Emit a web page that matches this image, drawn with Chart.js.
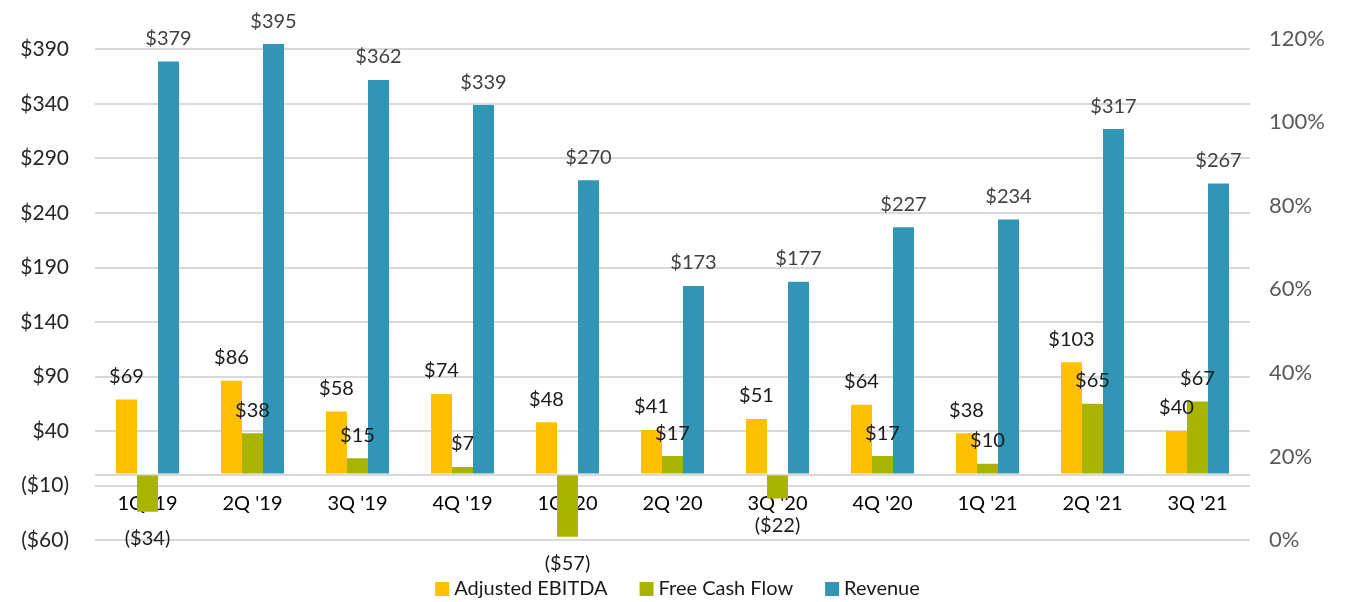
<!DOCTYPE html>
<html>
<head>
<meta charset="utf-8">
<script src="https://cdn.jsdelivr.net/npm/chart.js@4.4.1/dist/chart.umd.min.js"></script>
<style>
  html, body { margin: 0; padding: 0; background: #fff; }
  #wrap { width: 1355px; height: 602px; }
</style>
</head>
<body>
<div id="wrap"><canvas id="finChart"></canvas></div>
<script>
const quarters = ["1Q '19", "2Q '19", "3Q '19", "4Q '19", "1Q '20", "2Q '20", "3Q '20", "4Q '20", "1Q '21", "2Q '21", "3Q '21"];
const ebitda = [69, 86, 58, 74, 48, 41, 51, 64, 38, 103, 40];
const freeCashFlow = [-34, 38, 15, 7, -57, 17, -22, 17, 10, 65, 67];
const revenue = [379, 395, 362, 339, 270, 173, 177, 227, 234, 317, 267];
const leftTicks = [-60, -10, 0, 40, 90, 140, 190, 240, 290, 340, 390];

const fontFamily = 'Lato, "Open Sans", sans-serif';

function money(v) {
    return v < 0 ? '($' + Math.abs(v) + ')' : '$' + v;
}

// value labels above (or below) each bar
const barLabels = {
    id: 'barLabels',
    afterDatasetsDraw(chart) {
        const ctx = chart.ctx;
        ctx.save();
        ctx.font = '20px ' + fontFamily;
        ctx.textAlign = 'center';
        ctx.textBaseline = 'middle';
        chart.data.datasets.forEach((ds, i) => {
            const meta = chart.getDatasetMeta(i);
            ctx.fillStyle = ds.labelColor;
            meta.data.forEach((bar, j) => {
                const v = ds.data[j];
                const y = v < 0 ? bar.y + 27 : bar.y - 23;
                ctx.fillText(money(v), bar.x, y);
            });
        });
        ctx.restore();
    }
};

// legend drawn by hand so it can sit lower than the built-in one
const bottomLegend = {
    id: 'bottomLegend',
    afterDraw(chart) {
        const ctx = chart.ctx;
        const box = 14, gap = 5, spacing = 32;
        const y = chart.height - 13;
        ctx.save();
        ctx.font = '20px ' + fontFamily;
        ctx.textBaseline = 'middle';
        const items = chart.data.datasets.map(ds => ({
            text: ds.label,
            color: ds.backgroundColor,
            w: box + gap + ctx.measureText(ds.label).width
        }));
        const total = items.reduce((s, it) => s + it.w, 0) + spacing * (items.length - 1);
        let x = (chart.width - total) / 2;
        items.forEach(it => {
            ctx.fillStyle = it.color;
            ctx.fillRect(x, y - box / 2, box, box);
            ctx.fillStyle = '#1a1a1a';
            ctx.fillText(it.text, x + box + gap, y);
            x += it.w + spacing;
        });
        ctx.restore();
    }
};

const ctx = document.getElementById('finChart').getContext('2d');

new Chart(ctx, {
    type: 'bar',
    data: {
        labels: quarters,
        datasets: [
            {
                label: 'Adjusted EBITDA',
                data: ebitda,
                backgroundColor: '#FFC000',
                labelColor: '#1a1a1a'
            },
            {
                label: 'Free Cash Flow',
                data: freeCashFlow,
                backgroundColor: '#A9B400',
                labelColor: '#1a1a1a'
            },
            {
                label: 'Revenue',
                data: revenue,
                backgroundColor: '#3196B5',
                labelColor: '#404040'
            }
        ]
    },
    options: {
        responsive: true,
        maintainAspectRatio: false,
        animation: false,
        datasets: {
            bar: { categoryPercentage: 0.6, barPercentage: 1.0 }
        },
        layout: {
            padding: { top: 34, left: 0, right: 0, bottom: 62 }
        },
        plugins: {
            legend: { display: false },
            tooltip: { enabled: false }
        },
        scales: {
            x: {
                position: { y: 0 },
                grid: { display: false },
                border: { display: false },
                ticks: {
                    color: '#000',
                    padding: 9,
                    maxRotation: 0,
                    font: { family: fontFamily, size: 20 }
                }
            },
            y: {
                min: -60,
                max: 400,
                afterBuildTicks: scale => {
                    scale.ticks = leftTicks.map(v => ({ value: v }));
                },
                afterFit: scale => { scale.width = 95; },
                grid: { color: '#D9D9D9', lineWidth: 2, drawTicks: false },
                border: { display: false },
                ticks: {
                    color: '#262626',
                    padding: 26,
                    font: { family: fontFamily, size: 21 },
                    callback: v => v === 0 ? '' : money(v)
                }
            },
            y1: {
                position: 'right',
                min: 0,
                max: 120,
                afterFit: scale => { scale.width = 105; },
                grid: { drawOnChartArea: false, drawTicks: false },
                border: { display: false },
                ticks: {
                    stepSize: 20,
                    color: '#595959',
                    padding: 19,
                    font: { family: fontFamily, size: 22 },
                    callback: v => v + '%'
                }
            }
        }
    },
    plugins: [barLabels, bottomLegend]
});
</script>
</body>
</html>
